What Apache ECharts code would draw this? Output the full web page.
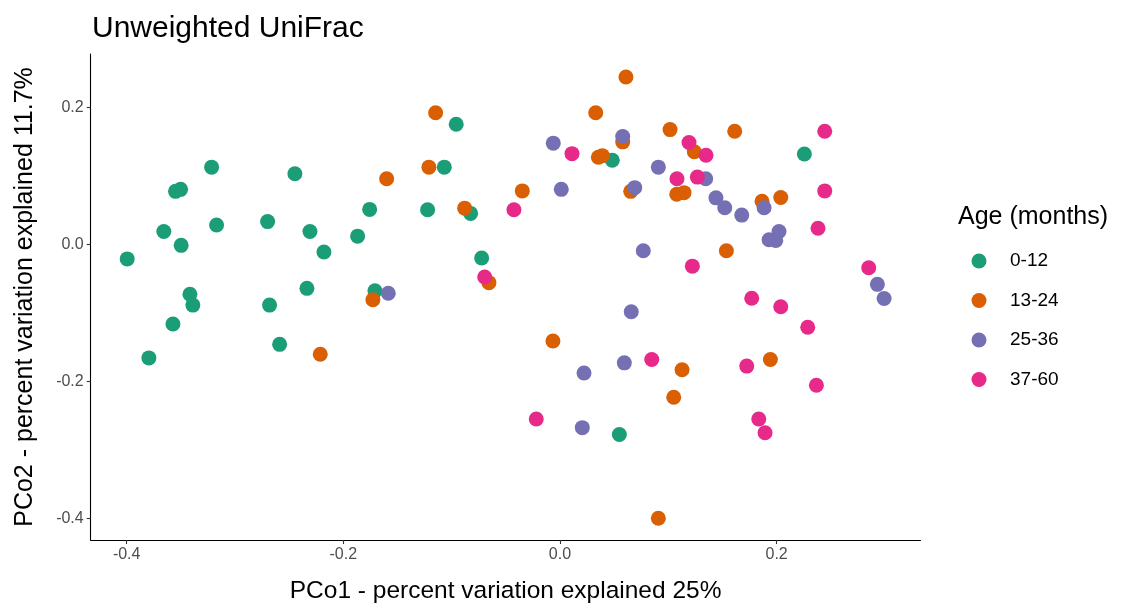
<!DOCTYPE html>
<html>
<head>
<meta charset="utf-8">
<script src="https://cdn.jsdelivr.net/npm/echarts@6/dist/echarts.min.js"></script>
<style>
  html, body { margin: 0; padding: 0; background: #fff; }
  #chart { width: 1121px; height: 609px; }
</style>
</head>
<body>
<div id="chart"></div>
<script>
// PCoA ordination (unweighted UniFrac), samples grouped by age class.
const groups = ['0-12', '13-24', '25-36', '37-60'];
const colors = ['#1B9E77', '#D95F02', '#7570B3', '#E7298A'];

// [PCo1, PCo2] per sample
const age0to12 = [
  [-0.3216, 0.1132], [-0.3549, 0.0779], [-0.3502, 0.0808], [-0.2447, 0.1035],
  [-0.1757, 0.0515], [-0.3657, 0.0192], [-0.3170, 0.0288], [-0.2699, 0.0337],
  [-0.2308, 0.0192], [-0.1868, 0.0124], [-0.3497, -0.0010], [-0.3995, -0.0208],
  [-0.2179, -0.0107], [-0.3416, -0.0724], [-0.3389, -0.0883], [-0.3573, -0.1158],
  [-0.3795, -0.1654], [-0.2681, -0.0883], [-0.2336, -0.0638], [-0.2588, -0.1456],
  [-0.1708, -0.0675], [-0.0958, 0.1758], [-0.1068, 0.1132], [-0.1222, 0.0510],
  [-0.0825, 0.0457], [-0.0723, -0.0194], [0.0483, 0.1233], [0.2256, 0.1324],
  [0.0548, -0.2774]
];
const age13to24 = [
  [-0.1727, -0.0805], [-0.2213, -0.1600], [-0.1148, 0.1927], [-0.1210, 0.1132],
  [-0.1600, 0.0963], [-0.0880, 0.0533], [-0.0656, -0.0555], [-0.0348, 0.0785],
  [0.0330, 0.1927], [0.0609, 0.2448], [0.0354, 0.1277], [0.0391, 0.1300],
  [0.0579, 0.1502], [0.0653, 0.0779], [0.1016, 0.1681], [0.1613, 0.1657],
  [0.1240, 0.1358], [0.1078, 0.0736], [0.1145, 0.0760], [0.1865, 0.0635],
  [0.2038, 0.0688], [0.1536, -0.0088], [0.1127, -0.1827], [0.1942, -0.1678],
  [0.1050, -0.2228], [-0.0065, -0.1408], [0.0908, -0.3996]
];
const age25to36 = [
  [-0.1585, -0.0710], [-0.0062, 0.1483], [0.0012, 0.0808], [0.0579, 0.1580],
  [0.0690, 0.0833], [0.0908, 0.1132], [0.1345, 0.0963], [0.1440, 0.0684],
  [0.1521, 0.0539], [0.1678, 0.0432], [0.1884, 0.0539], [0.1930, 0.0071],
  [0.1992, 0.0062], [0.2022, 0.0192], [0.0769, -0.0088], [0.2930, -0.0580],
  [0.2992, -0.0786], [0.0658, -0.0979], [0.0594, -0.1726], [0.0222, -0.1875],
  [0.0206, -0.2673]
];
const age37to60 = [
  [-0.0425, 0.0510], [0.0111, 0.1329], [-0.0695, -0.0473], [0.1191, 0.1493],
  [0.1348, 0.1305], [0.1080, 0.0963], [0.1268, 0.0987], [0.2444, 0.1657],
  [0.2444, 0.0785], [0.2382, 0.0240], [0.1222, -0.0314], [0.2850, -0.0338],
  [0.1770, -0.0782], [0.2038, -0.0906], [0.2287, -0.1206], [0.0847, -0.1678],
  [0.1724, -0.1774], [0.2367, -0.2054], [0.1835, -0.2546], [0.1893, -0.2748],
  [-0.0219, -0.2546]
];
const groupData = [age0to12, age13to24, age25to36, age37to60];

const xTicks = [-0.4, -0.2, 0.0, 0.2];
const yTicks = [-0.4, -0.2, 0.0, 0.2];
const xRange = [-0.4332, 0.3328];
const yRange = [-0.4314, 0.2785];

const fontFamily = 'Liberation Sans, Arial, sans-serif';
const fmt = v => (Math.abs(v) < 1e-9 ? '0.0' : v.toFixed(1));

const chart = echarts.init(document.getElementById('chart'), null, { renderer: 'canvas' });

chart.setOption({
  animation: false,
  backgroundColor: '#ffffff',
  textStyle: { fontFamily },
  title: [
    {
      text: 'Unweighted UniFrac',
      left: 87, top: 9,
      textStyle: { fontFamily, fontSize: 30, fontWeight: 'normal', color: '#000' }
    },
    {
      text: 'Age (months)',
      left: 953, top: 200,
      textStyle: { fontFamily, fontSize: 25, fontWeight: 'normal', color: '#000' }
    }
  ],
  legend: {
    orient: 'vertical',
    left: 971.5, top: 251.5,
    padding: 0,
    icon: 'circle',
    itemWidth: 15, itemHeight: 15,
    itemGap: 20.5,
    data: groups,
    textStyle: { fontFamily, fontSize: 19, color: '#000', lineHeight: 19, padding: [0, 0, 0, 18.5] }
  },
  grid: { left: 90.7, right: 200.5, top: 54, bottom: 64, containLabel: false },
  xAxis: {
    type: 'value',
    min: xRange[0], max: xRange[1],
    name: 'PCo1 - percent variation explained 25%',
    nameLocation: 'middle', nameGap: 39,
    nameTextStyle: { fontFamily, fontSize: 24.5, color: '#000' },
    axisLine: { show: true, onZero: false, lineStyle: { color: '#000', width: 1.1 } },
    axisTick: { show: true, length: 4, customValues: xTicks, lineStyle: { color: '#333', width: 1.1 } },
    axisLabel: { customValues: xTicks, formatter: fmt, fontFamily, fontSize: 16, color: '#4D4D4D', margin: 7 },
    splitLine: { show: false }
  },
  yAxis: {
    type: 'value',
    min: yRange[0], max: yRange[1],
    name: 'PCo2 - percent variation explained 11.7%',
    nameLocation: 'middle', nameGap: 53,
    nameTextStyle: { fontFamily, fontSize: 25, color: '#000' },
    axisLine: { show: true, onZero: false, lineStyle: { color: '#000', width: 1.1 } },
    axisTick: { show: true, length: 4, customValues: yTicks, lineStyle: { color: '#333', width: 1.1 } },
    axisLabel: { customValues: yTicks, formatter: fmt, fontFamily, fontSize: 16, color: '#4D4D4D', margin: 7 },
    splitLine: { show: false }
  },
  series: groups.map((g, i) => ({
    name: g,
    type: 'scatter',
    data: groupData[i],
    symbol: 'circle',
    symbolSize: 15,
    itemStyle: { color: colors[i], opacity: 1 },
    emphasis: { disabled: true }
  }))
});
</script>
</body>
</html>
